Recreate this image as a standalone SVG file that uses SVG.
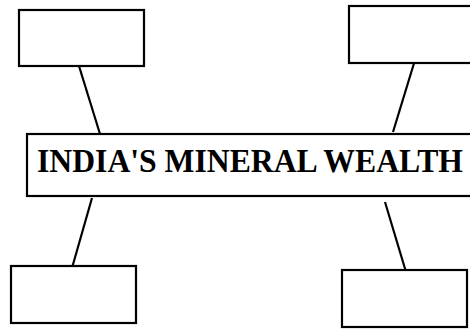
<svg xmlns="http://www.w3.org/2000/svg" width="470" height="330" viewBox="0 0 470 330">
<style>
.box{fill:#fff;stroke:#000;stroke-width:2.2}
.con{stroke:#000;stroke-width:2.2;fill:none}
.title{font-family:"Liberation Serif","Times New Roman",serif;font-weight:bold;font-size:33px;fill:#000}
</style>
<rect width="470" height="330" fill="#fff"/>
<g id="connectors">
<line class="con" x1="79" y1="66" x2="100" y2="134"/>
<line class="con" x1="415" y1="60" x2="393" y2="132"/>
<line class="con" x1="92" y1="198" x2="72" y2="268"/>
<line class="con" x1="385" y1="202" x2="406" y2="272"/>
</g>
<g id="top-left"><rect class="box" x="19" y="10" width="125" height="56"/></g>
<g id="top-right"><rect class="box" x="349" y="6" width="125" height="57"/></g>
<g id="bottom-left"><rect class="box" x="11" y="266" width="125" height="57"/></g>
<g id="bottom-right"><rect class="box" x="342" y="270" width="125" height="57"/></g>
<g id="center">
<rect class="box" x="27" y="134" width="450" height="62"/>
<text class="title" x="37" y="172" textLength="426" lengthAdjust="spacingAndGlyphs">INDIA'S MINERAL WEALTH</text>
</g>
</svg>
